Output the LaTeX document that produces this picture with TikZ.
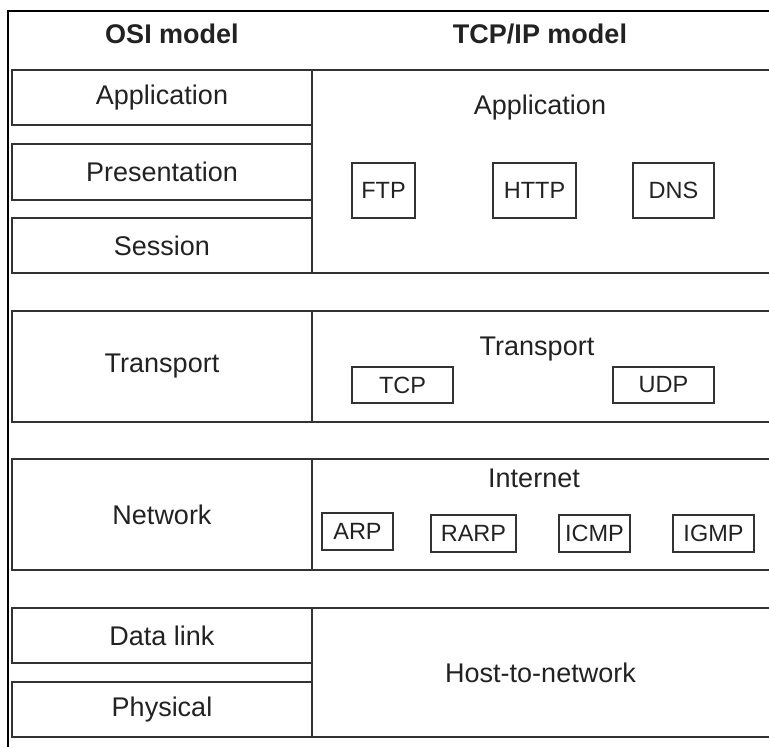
\documentclass[tikz,border=0pt]{standalone}
\usepackage{fontspec}
\setmainfont{Liberation Sans}
\definecolor{ink}{HTML}{222222}
\definecolor{edge}{HTML}{333333}
\tikzset{
  big/.style={font=\fontsize{27}{32}\selectfont, text=ink, inner sep=0pt},
  head/.style={font=\bfseries\fontsize{27}{32}\selectfont, text=ink, inner sep=0pt},
  small/.style={font=\fontsize{23.5}{28}\selectfont, text=ink},
  osibox/.style={draw=edge, line width=1.8pt, rectangle, inner sep=0pt, minimum width=300pt, big},
  tcpzone/.style={rectangle, inner sep=0pt, minimum width=457pt},
  protobox/.style={draw=edge, line width=1.8pt, rectangle, inner sep=0pt, small},
  zoneedge/.style={draw=edge, line width=1.8pt},
  frame/.style={draw=black, line width=2.6pt}
}
\begin{document}
\begin{tikzpicture}[x=1pt, y=-1pt]
\useasboundingbox (0,0) rectangle (769,747);
% outer frame (top and left visible)
\coordinate (ftr) at (769,11);
\coordinate (ftl) at (8,11);
\coordinate (fbl) at (8,747);
\draw[frame] (ftr) -- (ftl) -- (fbl);

% headers
\node[head] (hosi) at (172,34) {OSI model};
\node[head] (htcp) at (540,34) {TCP/IP model};

% OSI column
\node[osibox, minimum height=55pt] (oapp) at (162,97.5) {Application};
\node[osibox, minimum height=56pt] (opres) at (162,172) {Presentation};
\node[osibox, minimum height=55pt] (osess) at (162,245.5) {Session};
\node[osibox, minimum height=111pt] (otrans) at (162,366.5) {Transport};
\node[osibox, minimum height=111pt] (onet) at (162,514.5) {Network};
\node[osibox, minimum height=55pt] (odl) at (162,635.5) {Data link};
\node[osibox, minimum height=55pt] (ophys) at (162,709.5) {Physical};

% TCP/IP column zones
\node[tcpzone, minimum height=203pt] (tapp) at (540.5,171.5) {};
\node[tcpzone, minimum height=111pt] (ttrans) at (540.5,366.5) {};
\node[tcpzone, minimum height=111pt] (tnet) at (540.5,514.5) {};
\node[tcpzone, minimum height=129pt, big] (thost) at (540.5,672.5) {Host-to-network};
\foreach \z in {tapp,ttrans,tnet,thost}{
  \draw[zoneedge] (\z.north east) -- (\z.north west) -- (\z.south west) -- (\z.south east);
}

% Application layer
\node[big] (lapp) at (540,108) {Application};
\node[protobox, minimum width=63pt, minimum height=55pt] (ftp) at (383.5,190.5) {FTP};
\node[protobox, minimum width=83pt, minimum height=55pt] (http) at (534.5,190.5) {HTTP};
\node[protobox, minimum width=81pt, minimum height=55pt] (dns) at (673.5,190.5) {DNS};

% Transport layer
\node[big] (ltrans) at (537,349) {Transport};
\node[protobox, minimum width=101pt, minimum height=36pt] (tcp) at (402.5,385) {TCP};
\node[protobox, minimum width=101pt, minimum height=36pt] (udp) at (663.5,385) {UDP};

% Internet layer
\node[big] (lnet) at (534,478) {Internet};
\node[protobox, minimum width=71pt, minimum height=37pt] (arp) at (357.5,531.5) {ARP};
\node[protobox, minimum width=85pt, minimum height=37pt] (rarp) at (473.5,533.5) {RARP};
\node[protobox, minimum width=71pt, minimum height=37pt] (icmp) at (594.5,533.5) {ICMP};
\node[protobox, minimum width=81pt, minimum height=37pt] (igmp) at (713.5,533.5) {IGMP};
\end{tikzpicture}
\end{document}
